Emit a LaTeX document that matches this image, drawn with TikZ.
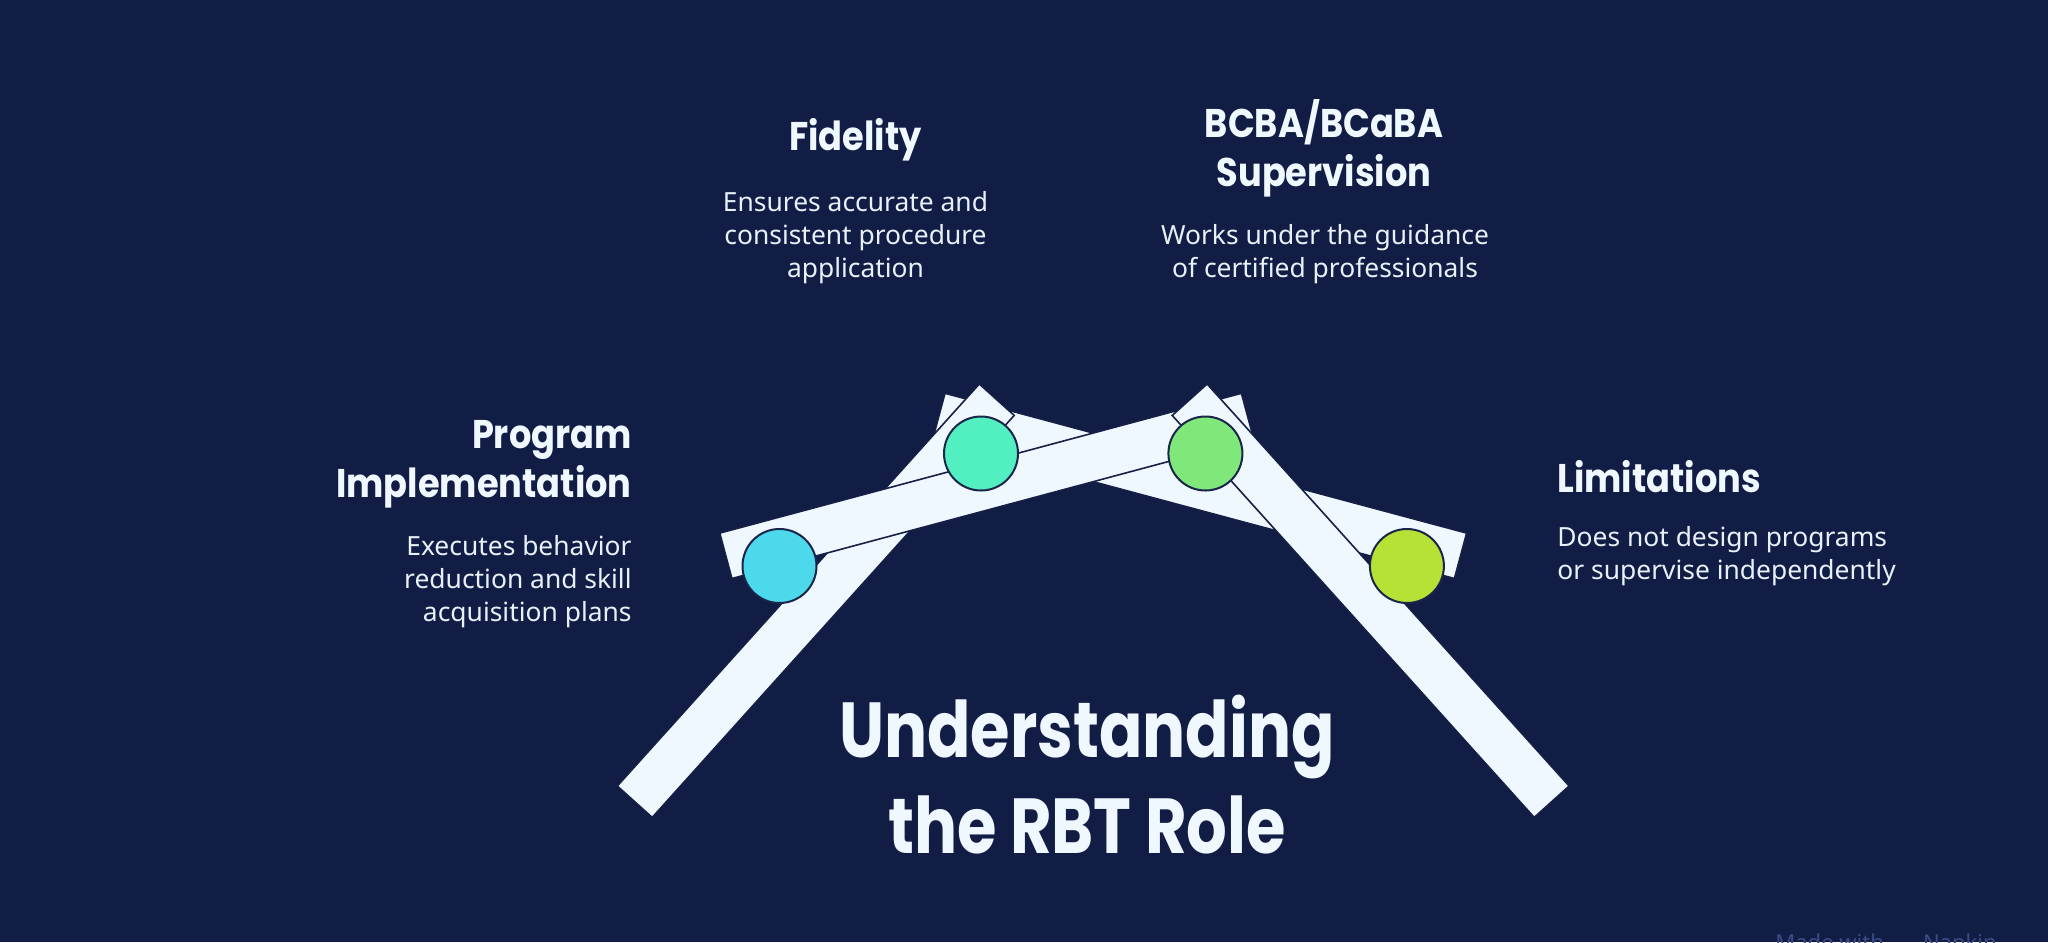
\documentclass[tikz,border=0pt]{standalone}
\usepackage{fontspec}
\setmainfont{Noto Sans}
\newfontfamily\titlefont{Poppins}[FakeStretch=0.88]
\newfontfamily\bigfont{Poppins}[FakeStretch=0.82]
\definecolor{bgc}{RGB}{18,29,69}
\definecolor{beamc}{RGB}{240,248,255}
\definecolor{edgec}{RGB}{22,32,70}
\definecolor{ringc}{RGB}{26,37,75}
\definecolor{bluec}{RGB}{77,217,236}
\definecolor{tealc}{RGB}{82,240,192}
\definecolor{greenc}{RGB}{128,232,122}
\definecolor{limec}{RGB}{181,226,53}
\definecolor{bodyc}{RGB}{232,240,250}
\definecolor{wmc}{RGB}{62,74,134}
\begin{document}
\begin{tikzpicture}[x=0.5pt,y=-0.5pt,
  beam/.style={fill=beamc,draw=edgec,line width=0.8pt,line join=miter},
  dot/.style={circle,draw=ringc,line width=1pt,minimum size=37pt,inner sep=0pt},
  ttl/.style={text=beamc,font=\titlefont\bfseries\fontsize{20}{24.5}\selectfont,inner sep=0pt},
  body/.style={text=bodyc,font=\fontsize{13.2}{16.5}\selectfont,inner sep=0pt},
  big/.style={text=beamc,font=\bigfont\bfseries\fontsize{39}{48}\selectfont,inner sep=0pt,align=center}]
\useasboundingbox (0,0) rectangle (2048,942);
\fill[bgc] (0,0) rectangle (2048,942);
\clip (0,0) rectangle (2048,942);
% back beam (Fidelity side to Limitations)
\coordinate (b1) at (945,393.3);
\coordinate (b2) at (1466.6,533.1);
\coordinate (b3) at (1454.4,578.5);
\coordinate (b4) at (932.8,438.7);
% front beam (Program to BCBA)
\coordinate (f1) at (1241.4,393.3);
\coordinate (f2) at (719.8,533.1);
\coordinate (f3) at (731.9,578.5);
\coordinate (f4) at (1253.6,438.7);
% left leg
\coordinate (l1) at (617.3,786);
\coordinate (l2) at (979.3,384);
\coordinate (l3) at (1014.2,415.4);
\coordinate (l4) at (652.2,817.4);
% right leg
\coordinate (r1) at (1569.1,786);
\coordinate (r2) at (1207.1,384);
\coordinate (r3) at (1172.2,415.4);
\coordinate (r4) at (1534.2,817.4);
\draw[beam] (b1) -- (b2) -- (b3) -- (b4) -- cycle;
\draw[beam] (l1) -- (l2) -- (l3) -- (l4) -- cycle;
\draw[beam] (f1) -- (f2) -- (f3) -- (f4) -- cycle;
\draw[beam] (r1) -- (r2) -- (r3) -- (r4) -- cycle;
% circles
\node[dot,fill=bluec] (cblue) at (779.5,566) {};
\node[dot,fill=tealc] (cteal) at (981,453.5) {};
\node[dot,fill=greenc] (cgreen) at (1205.4,453.5) {};
\node[dot,fill=limec] (clime) at (1406.9,566) {};
% texts
\node[ttl,align=center] (fidT) at (855.5,140) {Fidelity};
\node[body,align=center] (fidB) at (855.5,237.5) {Ensures accurate and\\consistent procedure\\application};
\node[ttl,align=center] (bcbaT) at (1324,148.5) {BCBA/BCaBA\\Supervision};
\node[body,align=center] (bcbaB) at (1325,254) {Works under the guidance\\of certified professionals};
\node[ttl,align=right,anchor=east] (progT) at (632,464.5) {Program\\Implementation};
\node[body,align=right,anchor=east] (progB) at (632,582) {Executes behavior\\reduction and skill\\acquisition plans};
\node[ttl,align=left,anchor=west] (limT) at (1557,476.5) {Limitations};
\node[body,align=left,anchor=west] (limB) at (1557,556.6) {Does not design programs\\or supervise independently};
\node[big] (mainT) at (1087,775) {Understanding\\the RBT Role};
% watermark
\node[text=wmc,font=\fontsize{11}{13}\selectfont,anchor=base west,inner sep=0pt] (wm1) at (1775,950) {Made with};
\node[text=wmc,font=\fontsize{11}{13}\selectfont,anchor=base east,inner sep=0pt] (wm2) at (1997,950) {Napkin};
\end{tikzpicture}
\end{document}
